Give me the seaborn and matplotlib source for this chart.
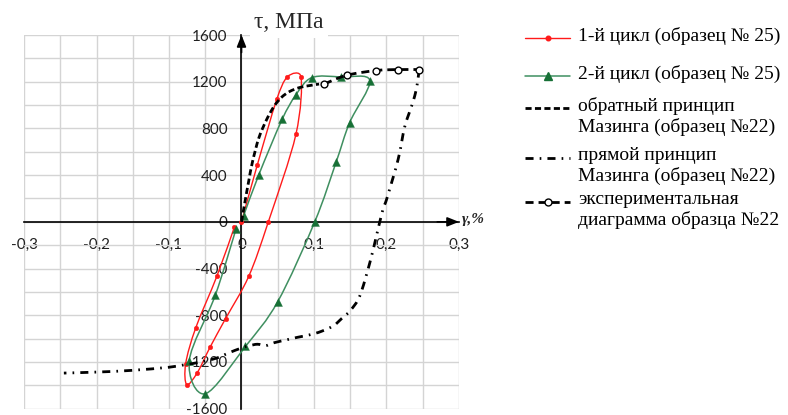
import numpy as np
import matplotlib
matplotlib.use("Agg")
import matplotlib.pyplot as plt
from matplotlib.path import Path
from matplotlib.patches import PathPatch
from matplotlib.lines import Line2D
import seaborn as sns

# ---- data: shear strain γ (%) and shear stress τ (MPa) ----
# 1st loading cycle, specimen No 25
cycle1_gamma = [0.0, 0.0217, 0.0486, 0.0634, 0.082, 0.075, 0.037, 0.010,
                -0.022, -0.043, -0.061, -0.0755, -0.077, -0.063, -0.034, -0.0097]
cycle1_tau = [0, 485, 1048, 1243, 1243, 748, 0, -466,
              -829, -1069, -1292, -1394, -1214, -906, -466, -43]

# 2nd loading cycle, specimen No 25
cycle2_gamma = [0.003, 0.024, 0.056, 0.075, 0.097, 0.1375, 0.177, 0.149,
                0.1305, 0.101, 0.05, 0.0055, -0.05, -0.072, -0.036, -0.0075]
cycle2_tau = [54, 405, 877, 1087, 1235, 1240, 1210, 848,
              511, 0, -683, -1066, -1472, -1189, -626, -60]

# reverse Masing principle, specimen No 22
reverse_gamma = [0.0, 0.005, 0.010, 0.015, 0.024, 0.035, 0.045, 0.055,
                 0.066, 0.080, 0.095, 0.107]
reverse_tau = [0, 180, 350, 510, 720, 880, 990, 1065, 1115, 1150, 1168, 1180]

# direct Masing principle, specimen No 22
direct_gamma = [0.245, 0.2425, 0.239, 0.234, 0.225, 0.216, 0.200, 0.195, 0.186,
                0.177, 0.163, 0.150, 0.138, 0.127, 0.110, 0.095, 0.077, 0.063,
                0.045, 0.033, 0.022, 0.010, 0.0, -0.018, -0.034, -0.060, -0.078,
                -0.100, -0.152, -0.198, -0.245]
direct_tau = [1304, 1183, 1080, 980, 811, 534, 190, 105, -123,
              -350, -637, -760, -829, -889, -938, -966, -989, -1009,
              -1035, -1060, -1048, -1062, -1080, -1123, -1166, -1205, -1223,
              -1245, -1272, -1286, -1295]

# experimental diagram, specimen No 22
exp_gamma = [0.114, 0.145, 0.186, 0.216, 0.245]
exp_tau = [1180, 1255, 1296, 1304, 1304]

x_tick_values = [-0.3, -0.2, -0.1, 0.0, 0.1, 0.2, 0.3]
x_tick_labels = ["-0,3", "-0,2", "-0,1", "0", "0,1", "0,2", "0,3"]
y_tick_values = [-1600, -1200, -800, -400, 0, 400, 800, 1200, 1600]
y_tick_labels = ["-1600", "-1200", "-800", "-400", "0", "400", "800", "1200", "1600"]

legend_labels = [
    "1-й цикл (образец № 25)",
    "2-й цикл (образец № 25)",
    "обратный принцип\nМазинга (образец №22)",
    "прямой принцип\nМазинга (образец №22)",
    "экспериментальная\nдиаграмма образца №22",
]

sns.set_style("white")
plt.rcParams["font.family"] = ["Lato", "DejaVu Sans"]
SERIF = ["Liberation Serif", "DejaVu Serif"]

RED = "#ff1a1a"
GREEN_LINE = "#3f8f60"
GREEN_MARK = "#177036"


def smooth_path(ax, xs, ys, cap=0.45):
    """Cubic Bezier path through the points (Catmull-Rom tangents, with
    control handles limited to a fraction of the segment length on screen)."""
    pts = np.column_stack([xs, ys]).astype(float)
    scr = ax.transData.transform(pts)
    n = len(pts)
    inv = ax.transData.inverted()
    verts = [pts[0]]
    codes = [Path.MOVETO]
    for i in range(n - 1):
        s0 = scr[i - 1] if i > 0 else scr[i]
        s1, s2 = scr[i], scr[i + 1]
        s3 = scr[i + 2] if i + 2 < n else scr[i + 1]
        seg = np.hypot(*(s2 - s1))
        d1 = (s2 - s0) / 6.0
        d2 = (s3 - s1) / 6.0
        for d in (d1, d2):
            ln = np.hypot(*d)
            if ln > cap * seg and ln > 0:
                d *= cap * seg / ln
        c1 = inv.transform(s1 + d1)
        c2 = inv.transform(s2 - d2)
        verts += [c1, c2, pts[i + 1]]
        codes += [Path.CURVE4] * 3
    return Path(verts, codes)


def add_curve(ax, xs, ys, **kw):
    ax.add_patch(PathPatch(smooth_path(ax, xs, ys), fill=False, **kw))


fig = plt.figure(figsize=(7.88, 4.15), dpi=100)
W, H = 788, 415
ax = fig.add_axes([24 / W, 1 - 408.7 / H, 435 / W, 373.7 / H])
ax.set_xlim(-0.3, 0.3)
ax.set_ylim(-1600, 1600)

# curves
add_curve(ax, cycle1_gamma, cycle1_tau, edgecolor=RED, lw=1.0, zorder=3)
add_curve(ax, cycle2_gamma, cycle2_tau, edgecolor=GREEN_LINE, lw=1.1, zorder=3)
add_curve(ax, reverse_gamma, reverse_tau, edgecolor="black", lw=2.0,
          linestyle=(0, (2.2, 1.2)), zorder=5, capstyle="butt")
add_curve(ax, direct_gamma, direct_tau, edgecolor="black", lw=2.0,
          linestyle=(0, (2.9, 2.2, 0.6, 2.2)), zorder=5, capstyle="butt")
add_curve(ax, exp_gamma, exp_tau, edgecolor="black", lw=2.0,
          linestyle=(0, (2.9, 1.8)), zorder=5, capstyle="butt")

# markers
sns.scatterplot(x=cycle1_gamma, y=cycle1_tau, ax=ax, marker="o", s=11,
                color=RED, edgecolor=RED, linewidth=0.3, zorder=4)
sns.scatterplot(x=cycle2_gamma, y=cycle2_tau, ax=ax, marker="^", s=32,
                color=GREEN_MARK, edgecolor=GREEN_MARK, linewidth=0.3, zorder=4)
sns.scatterplot(x=exp_gamma, y=exp_tau, ax=ax, marker="o", s=24,
                color="white", edgecolor="black", linewidth=1.0, zorder=6)

# axes through the origin
ax.set_xlim(-0.3, 0.3)
ax.set_ylim(-1600, 1600)
ax.spines["left"].set_position(("data", 0))
ax.spines["bottom"].set_position(("data", 0))
for side in ("top", "right"):
    ax.spines[side].set_visible(False)
for side in ("left", "bottom"):
    ax.spines[side].set_color("black")
    ax.spines[side].set_linewidth(1.2)
    ax.spines[side].set_zorder(2.6)

ax.set_xticks(x_tick_values)
ax.set_xticklabels(x_tick_labels)
ax.set_yticks(y_tick_values)
ax.set_yticklabels(y_tick_labels)
ax.set_xticks([-0.25, -0.15, -0.05, 0.05, 0.15, 0.25], minor=True)
ax.set_yticks([-1400, -1000, -600, -200, 200, 600, 1000, 1400], minor=True)
ax.tick_params(which="major", length=0, labelsize=11, labelcolor="#202020")
ax.tick_params(axis="y", which="major", pad=9.9)
ax.tick_params(axis="x", which="major", pad=11.5)
ax.tick_params(which="minor", length=4, width=1.0, direction="in", color="black")

ax.grid(True, which="both", color="#d4d4d4", lw=1.0)
ax.set_axisbelow(True)
ax.set_xlabel("")
ax.set_ylabel("")

# arrows at the axis ends
arrow_kw = dict(arrowstyle="-|>,head_length=0.7,head_width=0.28", color="black",
                lw=1.2, shrinkA=0, shrinkB=0)
ax.annotate("", xy=(0.3, 0), xytext=(0.27, 0), arrowprops=arrow_kw,
            annotation_clip=False, zorder=7)
ax.annotate("", xy=(0, 1600), xytext=(0, 1450), arrowprops=arrow_kw,
            annotation_clip=False, zorder=7)

# axis titles
fig.text(289 / W, 1 - 23 / H, "τ, МПа", family=SERIF, fontsize=17,
         ha="center", va="center",
         bbox=dict(facecolor="white", edgecolor="none", pad=3))
fig.text(462 / W, 1 - 219 / H, "γ,%", family=SERIF, fontsize=11,
         style="italic", weight="bold", ha="left", va="center")

# legend
handle_x = [525 / W, 570 / W]
text_x = 578 / W
legend_rows = [38, 76, 108, 158, 202]
handle_styles = [
    dict(color=RED, lw=1.0, marker="o", markersize=3.3, markevery=[1]),
    dict(color=GREEN_LINE, lw=1.1, marker="^", markersize=5.5,
         markerfacecolor=GREEN_MARK, markeredgecolor=GREEN_MARK, markevery=[1]),
    dict(color="black", lw=2.0, linestyle=(0, (2.2, 1.2)), dash_capstyle="butt"),
    dict(color="black", lw=2.0, linestyle=(0, (2.9, 2.2, 0.6, 2.2)), dash_capstyle="butt"),
    dict(color="black", lw=2.0, linestyle=(0, (2.9, 1.8)), dash_capstyle="butt",
         marker="o", markersize=5, markerfacecolor="white",
         markeredgecolor="black", markeredgewidth=1.0, markevery=[1]),
]
for label, row, style in zip(legend_labels, legend_rows, handle_styles):
    yf = 1 - row / H
    mid = (handle_x[0] + handle_x[1]) / 2
    fig.add_artist(Line2D([handle_x[0], mid, handle_x[1]], [yf, yf, yf],
                          transform=fig.transFigure, **style))
    fig.text(text_x, yf + 11 / H, label, family=SERIF, fontsize=14, ha="left",
             va="top", linespacing=1.22, color="black")

fig.savefig("out.png", dpi=100)
